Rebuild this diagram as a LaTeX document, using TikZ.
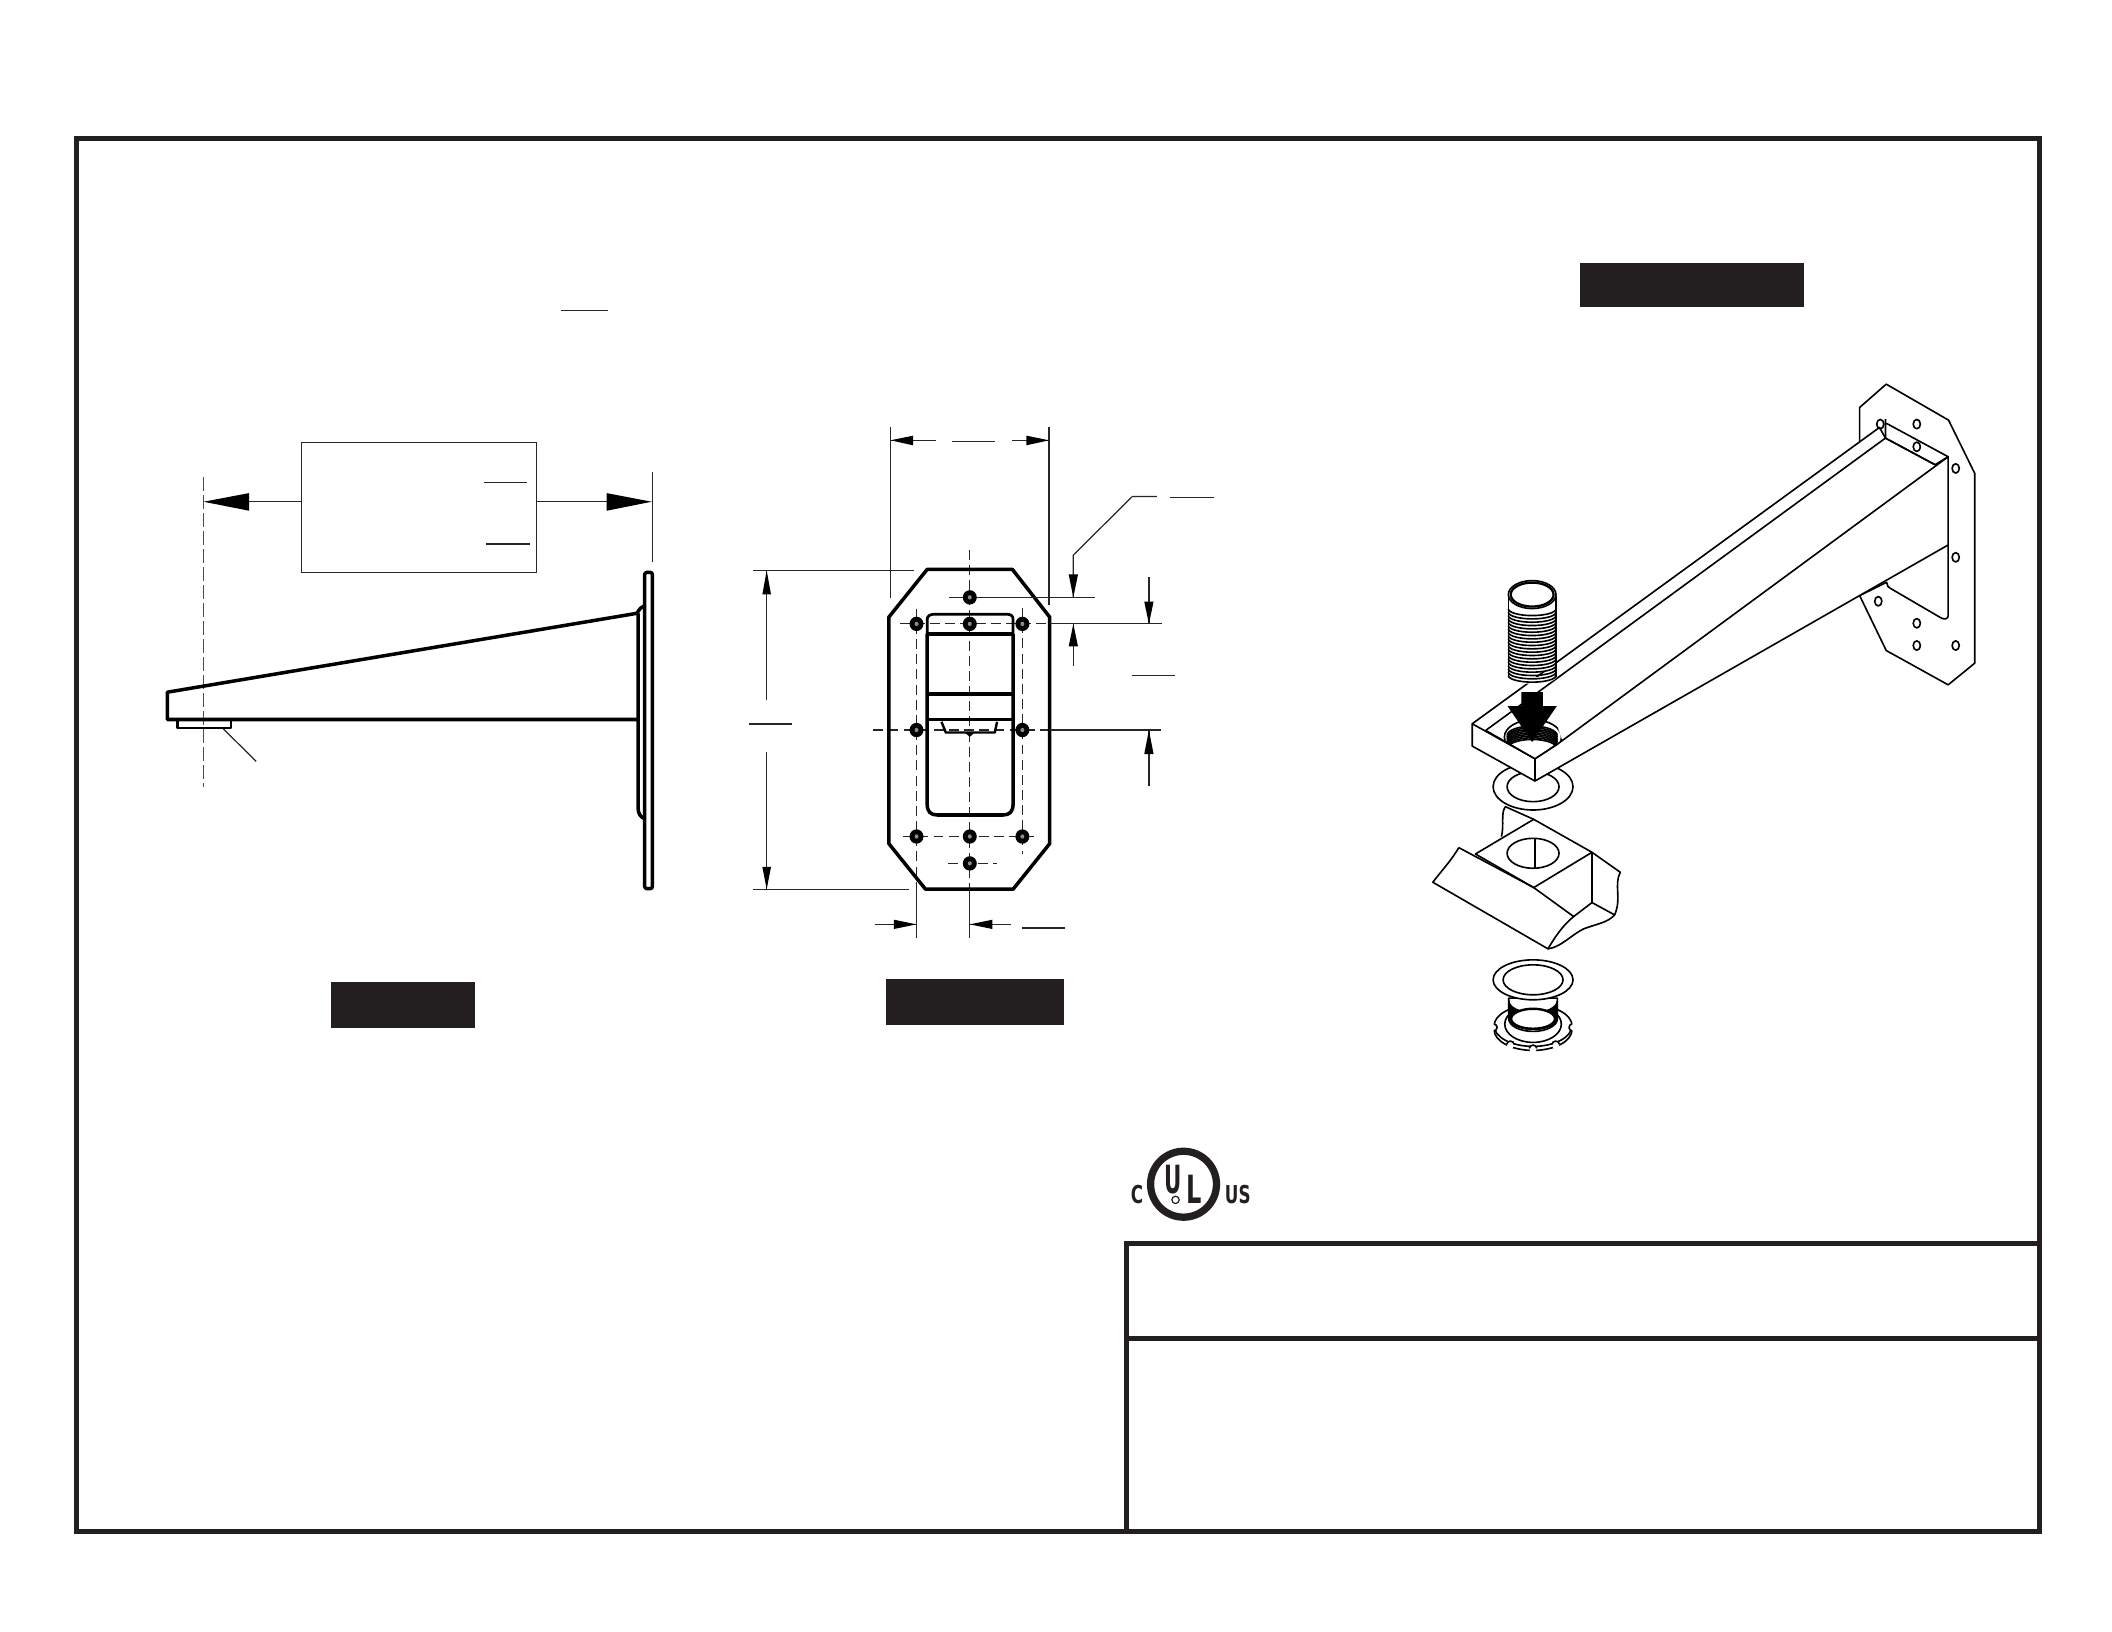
\documentclass[tikz,border=0pt]{standalone}
\usepackage{fontspec}
\setmainfont{Liberation Sans}
\newfontfamily\ulfont{DejaVu Sans}
\definecolor{ink}{HTML}{231F20}
\tikzset{
  frameline/.style={draw=ink,line width=0.037cm},
  thick line/.style={draw=black,line width=0.026cm,line join=round},
  thin line/.style={draw=black!85,line width=0.009cm},
  thread line/.style={draw=black,line width=0.012cm},
  iso line/.style={draw=black,line width=0.012cm,line join=round},
  center line/.style={draw=black!85,line width=0.009cm,dash pattern=on 2.1pt off 1.1pt},
  long center/.style={draw=black!70,line width=0.009cm,dash pattern=on 2.9pt off 0.9pt},
  head/.style={fill=black},
  bar/.style={fill=ink},
  logo text/.style={text=ink,inner sep=0pt}
}
\begin{document}
\begin{tikzpicture}[x=0.01cm,y=-0.01cm]
\useasboundingbox (-0.7,-1) rectangle (1567.3,1210.6);
\fill[white] (-0.7,-1) rectangle (1567.3,1210.6);
% frame and title block
\draw[frameline] (56,102) rectangle (1513.5,1136);
\draw[frameline] (836,1136) -- (836,922) -- (1515.5,922);
\draw[frameline] (836,993) -- (1513.5,993);
% black title bars
\fill[bar] (1172,194) rectangle (1339,227);
\fill[bar] (245,728) rectangle (352,762);
\fill[bar] (657,726) rectangle (789,760);
\draw[thin line] (416,229.5) -- (451,229.5);

% ---------- side view ----------
\begin{scope}[shift={(96.4,296.6)},xscale=.2662,yscale=.2472]
\draw[thin line] (477,125) rectangle (1131,515);
\draw[thin line] (985,245) -- (1105,245);
\draw[thin line] (991,430) -- (1113,430);
\draw[thin line] (477,303) -- (330,303);
\draw[thin line] (1131,303) -- (1327,303);
\fill[head] (203,303) -- (330,277) -- (330,330) -- cycle;
\fill[head] (1453,303) -- (1327,277) -- (1327,330) -- cycle;
\draw[long center] (203,228) -- (203,1160);
\draw[thin line] (1455,215) -- (1455,485);
% plate
\draw[thick line,rounded corners=0.5pt] (1433,515) rectangle (1455,1465);
% spout
\draw[thick line] (1412,638) -- (102,875) -- (102,957) -- (1412,957);
\draw[thick line] (1412,638) .. controls (1418,625) and (1425,618) .. (1433,615);
\draw[thick line] (1415,638) -- (1415,1225) .. controls (1415,1240) and (1422,1250) .. (1433,1255);
% aerator
\draw[thick line,line width=0.018cm] (130,960) -- (130,983) -- (280,983) -- (280,960);
\draw[thin line] (258,985) -- (350,1083);
\end{scope}

% ---------- plate view ----------
\begin{scope}[shift={(533.9,296.6)},xscale=.2472,yscale=.2662]
% centre lines
\draw[center line] (750,415) -- (750,1360);
\draw[center line] (540,622) -- (990,622);
\draw[center line] (460,918) -- (990,918);
\draw[center line] (550,1215) -- (955,1215);
\draw[center line] (590,580) -- (590,1360);
\draw[center line] (908,578) -- (908,1265);
\draw[thin line] (688,548) -- (800,548);
\draw[center line] (684,1290) -- (832,1290);
% plate outline
\draw[thick line] (622,470) -- (878,470) -- (990,603) -- (990,1235) -- (880,1362) -- (617,1362) -- (507,1235) -- (507,603) -- cycle;
% spout outline
\draw[thick line] (622,650) -- (622,1125) .. controls (622,1145) and (632,1155) .. (652,1155) -- (850,1155) .. controls (870,1155) and (880,1145) .. (880,1125) -- (880,650);
\draw[thick line,line width=0.02cm] (622,650) -- (622,610) .. controls (622,600) and (630,595) .. (645,595) -- (860,595) .. controls (875,595) and (880,600) .. (880,610) -- (880,650);
\draw[thick line] (622,650) -- (880,650);
\draw[thick line] (622,817) -- (880,817);
\draw[thick line] (622,888) -- (880,888);
\draw[thick line,line width=0.018cm] (665,895) -- (678,925) -- (825,925) -- (832,895);
\fill[black] (735,925) -- (765,925) -- (750,937) -- cycle;
% holes
\foreach \p in {(750,548),(590,622),(750,622),(908,622),(590,918),(908,918),(590,1215),(750,1215),(908,1215),(750,1290)}{
  \fill[black] \p ellipse [x radius=21,y radius=20];
  \fill[black!45] \p ellipse [x radius=6,y radius=6];
}
% dimensions
\draw[thin line] (512,72) -- (512,550);
\draw[thin line] (988,72) -- (988,570);
\draw[thin line] (512,110) -- (648,110);
\draw[thin line] (876,110) -- (988,110);
\fill[head] (512,110) -- (580,97) -- (580,124) -- cycle;
\fill[head] (988,110) -- (920,97) -- (920,124) -- cycle;
\draw[thin line] (696,113) -- (826,113);
\draw[thin line] (100,473) -- (583,473);
\draw[thin line] (100,1362) -- (568,1362);
\draw[thin line] (140,835) -- (140,473);
\draw[thin line] (140,978) -- (140,1362);
\fill[head] (140,473) -- (127,540) -- (153,540) -- cycle;
\fill[head] (140,1362) -- (127,1300) -- (153,1300) -- cycle;
\draw[thin line] (88,901) -- (215,901);
\draw[thin line] (1312,267) -- (1238,267) -- (1061,430) -- (1061,548);
\fill[head] (1061,548) -- (1047,484) -- (1075,484) -- cycle;
\draw[thin line] (1352,270) -- (1484,270);
\draw[thin line] (800,548) -- (1127,548);
\draw[thin line] (990,622) -- (1328,622);
\draw[thin line] (1288,492) -- (1288,622);
\fill[head] (1288,622) -- (1274,560) -- (1302,560) -- cycle;
\draw[thin line] (1061,740) -- (1061,622);
\fill[head] (1061,622) -- (1047,685) -- (1075,685) -- cycle;
\draw[thin line] (1236,767) -- (1367,767);
\draw[thin line] (990,918) -- (1323,918);
\draw[thin line] (1288,1075) -- (1288,918);
\fill[head] (1288,918) -- (1274,985) -- (1302,985) -- cycle;
\draw[thin line] (590,1360) -- (590,1498);
\draw[thin line] (750,1360) -- (750,1498);
\draw[thin line] (466,1460) -- (590,1460);
\draw[thin line] (875,1460) -- (750,1460);
\fill[head] (590,1460) -- (522,1447) -- (522,1473) -- cycle;
\fill[head] (750,1460) -- (818,1447) -- (818,1473) -- cycle;
\draw[thin line] (908,1470) -- (1035,1470);
\end{scope}

% ---------- lower parts (isometric, uniform scale) ----------
\begin{scope}[shift={(1039.1,460.7)},xscale=.2472,yscale=.2472]
% upper washer
\draw[iso line] (398,495) ellipse [x radius=120,y radius=70];
\draw[iso line] (398,495) ellipse [x radius=78,y radius=45];
% channel
\draw[iso line] (225,697) -- (400,593) -- (575,692) -- (400,798) -- cycle;
\draw[iso line] (400,593) -- (315,555) .. controls (300,575) and (312,610) .. (303,645);
\draw[iso line] (398,695) ellipse [x radius=78,y radius=45];
\draw[iso line] (403,650) -- (403,738);
\draw[iso line] (175,678) -- (400,798) -- (520,885) .. controls (495,905) and (470,935) .. (443,982) -- (97,782) .. controls (125,745) and (150,720) .. (175,678);
\draw[iso line] (575,692) -- (660,752) .. controls (640,790) and (665,830) .. (643,880) -- (575,843) -- (575,692);
\draw[iso line] (575,843) -- (520,885);
\draw[iso line] (443,982) .. controls (490,975) and (525,925) .. (570,915) .. controls (600,905) and (625,900) .. (643,880);
% lock nut
\draw[iso line,fill=white] (398,1225) ellipse [x radius=117,y radius=62];
\draw[iso line,fill=white] (398,1213) ellipse [x radius=117,y radius=62];
\foreach \p in {(398,1281),(330,1269),(466,1269)}{
  \fill[white] \p ellipse [x radius=11,y radius=14];
  \draw[iso line] \p ++(-11,0) arc [start angle=180,end angle=360,x radius=11,y radius=10];
}
\fill[white] (281,1218) ellipse [x radius=9,y radius=10];
\draw[iso line] (281,1208) arc [start angle=-90,end angle=90,x radius=9,y radius=10];
\fill[white] (515,1218) ellipse [x radius=9,y radius=10];
\draw[iso line] (515,1208) arc [start angle=270,end angle=90,x radius=9,y radius=10];
\draw[iso line] (398,1208) ellipse [x radius=85,y radius=55];
\draw[iso line,fill=white] (325,1130) -- (325,1192) arc [start angle=180,end angle=0,x radius=73,y radius=38] -- (471,1130) -- cycle;
\foreach \yy in {1138,1143,...,1190}{
  \draw[thread line] (325,\yy) arc [start angle=180,end angle=0,x radius=73,y radius=36];
}
\draw[iso line,line width=0.018cm,fill=white] (398,1192) ellipse [x radius=66,y radius=30];
% lower washer
\draw[iso line,fill=white] (398,1075) ellipse [x radius=120,y radius=60];
\draw[iso line] (398,1075) ellipse [x radius=90,y radius=45];
\end{scope}

% ---------- isometric arm ----------
\begin{scope}[shift={(1038.1,266.9)},xscale=.2947,yscale=.2472]
% wall plate
\draw[iso line,fill=white] (1227,70) -- (1384,178) -- (1450,338) -- (1450,908) -- (1383,973) -- (1227,870) -- (1160,705) -- (1160,140) -- cycle;
\foreach \p in {(1304,190),(1402,323),(1402,590),(1207,722),(1304,788),(1304,855),(1402,855)}{
  \draw[iso line] \p ellipse [x radius=9,y radius=14];
}
% flange
\draw[iso line,fill=white] (1225,175) -- (1225,232) -- (1160,290) -- (1160,705) -- (1228,665) .. controls (1228,675) and (1232,680) .. (1240,685) -- (1365,772) .. controls (1375,778) and (1383,775) .. (1383,765) -- (1383,288) -- (1228,188);
\draw[iso line] (1304,258) ellipse [x radius=9,y radius=14];
\draw[iso line] (1215,448) arc [start angle=-80,end angle=110,x radius=7,y radius=12];
\draw[iso line] (1307,515) arc [start angle=-80,end angle=110,x radius=7,y radius=12];
% arm: side and top faces
\draw[iso line,fill=white] (184,1090) -- (1210,200) -- (1225,232) -- (1350,312) -- (1383,288) -- (1383,553) -- (342,1262) -- (184,1157) -- cycle;
\draw[iso line] (218,1110) -- (1225,232);
\draw[iso line] (1225,232) -- (1350,312);
\draw[iso line] (1383,288) -- (400,1150);
\draw[iso line] (184,1090) -- (342,1195) -- (342,1262);
\draw[iso line] (342,1195) -- (400,1150);
\draw[iso line] (1212,190) ellipse [x radius=9,y radius=14];
% threaded hole
\begin{scope}
\clip (218,1110) -- (342,1195) -- (410,1138) -- (380,1030) -- (290,1030) -- cycle;
\draw[iso line] (337,1130) ellipse [x radius=72,y radius=52];
\foreach \yy in {1125,1130,...,1165}{
  \draw[thread line] (272,\yy) arc [start angle=180,end angle=360,x radius=63,y radius=28];
}
\fill[white] (335,1180) ellipse [x radius=56,y radius=30];
\end{scope}
\draw[iso line] (342,1195) -- (400,1150);
\draw[iso line] (218,1110) -- (342,1195);
% threaded stud
\fill[white] (275,705) rectangle (395,950) (335,950) ellipse [x radius=60,y radius=20];
\draw[iso line] (275,705) -- (275,950);
\draw[iso line] (395,705) -- (395,950);
\foreach \yy in {745,755,...,950}{
  \draw[thread line] (275,\yy) arc [start angle=180,end angle=0,x radius=60,y radius=20];
}
\draw[iso line,fill=white] (335,702) ellipse [x radius=60,y radius=42];
\draw[iso line,line width=0.017cm] (335,702) ellipse [x radius=54,y radius=36];
% black arrow
\fill[black] (308,995) -- (362,995) -- (362,1037) -- (397,1037) -- (335,1145) -- (273,1037) -- (308,1037) -- cycle;
\end{scope}

% ---------- UL mark ----------
\begin{scope}[shift={(815.7,837.9)},scale=.2472]
\draw[draw=ink,line width=0.054cm] (252,163) circle [radius=99];
\node[logo text,font=\ulfont\bfseries\fontsize{8.2}{9}\selectfont,xscale=.55] (ulu) at (222,148) {U};
\node[logo text,font=\ulfont\bfseries\fontsize{8.2}{9}\selectfont,xscale=.62] (ull) at (285,178) {L};
\node[logo text,font=\ulfont\bfseries\fontsize{5.2}{6}\selectfont,xscale=.68] (ulc) at (112,193) {C};
\node[logo text,font=\ulfont\bfseries\fontsize{5.2}{6}\selectfont,xscale=.68] (uls) at (415,193) {US};
\draw[draw=ink,line width=0.009cm,fill=white] (228,210) circle [radius=11];
\end{scope}
\end{tikzpicture}
\end{document}
